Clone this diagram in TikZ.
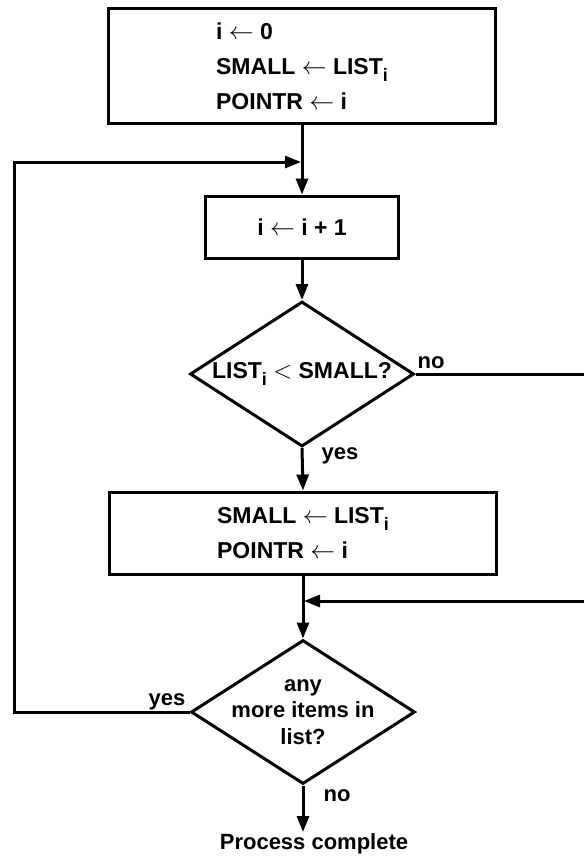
\documentclass[tikz,border=0pt]{standalone}
\usepackage{fontspec}
\setmainfont{Liberation Sans}
\usetikzlibrary{shapes.geometric,arrows.meta}
\newcommand{\lsub}[1]{\raisebox{-0.3em}{\fontsize{18}{18}\selectfont #1}}
\begin{document}
\begin{tikzpicture}[x=1pt,y=-1pt,
  every node/.style={font=\bfseries\fontsize{22}{35}\selectfont},
  bigtext/.style={font=\bfseries\fontsize{23}{35}\selectfont},
  ln/.style={line width=3pt},
  arr/.style={ln,-{Triangle[length=16pt,width=12pt]}},
  boxnode/.style={draw,line width=3pt,rectangle,inner sep=0pt,align=left,bigtext},
  dia/.style={draw,line width=3pt,diamond,minimum width=224pt,minimum height=145pt,inner sep=0pt},
  dtext/.style={align=center,inner sep=0pt,font=\bfseries\fontsize{22}{26.5}\selectfont},
  lbl/.style={anchor=base,inner sep=0pt}]
\fill[white] (0,0) rectangle (584,857);
\useasboundingbox (0,0) rectangle (584,857);

% boxes
\node[boxnode,minimum width=387pt,minimum height=115pt] (b1) at (302,66)
  {i $\leftarrow$ 0\\SMALL $\leftarrow$ LIST\lsub{i}\\POINTR $\leftarrow$ i};
\node[boxnode,minimum width=193pt,minimum height=62pt] (b2) at (302,227)
  {i $\leftarrow$ i + 1};
\node[dia] (d1) at (302,374) {};
\node[dtext,bigtext] (d1t) at (302,374) {LIST\lsub{i} $<$ SMALL?};
\node[boxnode,minimum width=387pt,minimum height=82pt] (b3) at (303,533)
  {SMALL $\leftarrow$ LIST\lsub{i}\\POINTR $\leftarrow$ i};
\node[dia,minimum height=144pt] (d2) at (303,712) {};
\node[dtext] (d2t) at (303,712) {any\\more items in\\list?};
\node[lbl] (end) at (314,849) {Process complete};

% labels
\node[lbl] (no1) at (431,368) {no};
\node[lbl] (yes1) at (340,459) {yes};
\node[lbl] (yes2) at (167,705) {yes};
\node[lbl] (no2) at (337,801) {no};

% coordinates
\coordinate (m1) at (301,162);
\coordinate (L1) at (14,712);
\coordinate (L2) at (14,162);
\coordinate (R1) at (584,374);
\coordinate (R2) at (584,601);
\coordinate (m2) at (304,601);
\coordinate (e1) at (303,832);

% connectors
\draw[arr] (b1.south) -- (b2.north);
\draw[arr] (d2.west) -- (L1) -- (L2) -- (m1);
\draw[arr] (b2.south) -- (d1.north);
\draw[ln] (d1.east) -- (R1);
\draw[arr] (d1.south) -- (b3.north);
\draw[arr] (b3.south) -- (d2.north);
\draw[arr] (R2) -- (m2);
\draw[arr] (d2.south) -- (e1);
\end{tikzpicture}
\end{document}
